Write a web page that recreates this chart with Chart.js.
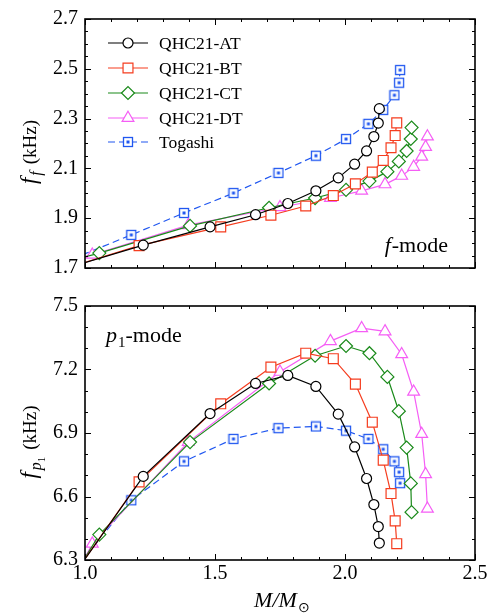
<!DOCTYPE html>
<html><head><meta charset="utf-8">
<script src="https://cdn.jsdelivr.net/npm/chart.js@4.4.1/dist/chart.umd.min.js"></script>
<style>
html,body{margin:0;padding:0;background:#fff;}
#wrap{position:relative;width:491px;height:614px;overflow:hidden;}
canvas{position:absolute;left:0;}
#c1{top:0;}
#c2{top:287px;}
</style></head><body>
<div id="wrap"><canvas id="c1" width="491" height="287"></canvas><canvas id="c2" width="491" height="327"></canvas></div>
<script>
// ---------- data ----------
const seriesNames = ["QHC21-AT", "QHC21-BT", "QHC21-CT", "QHC21-DT", "Togashi"];

const massAT = [0.95, 1.224, 1.481, 1.656, 1.780, 1.888, 1.974, 2.037, 2.083, 2.111, 2.128, 2.132];
const ffAT   = [1.706, 1.792, 1.865, 1.914, 1.959, 2.010, 2.062, 2.117, 2.170, 2.228, 2.282, 2.340];
const fpAT   = [6.218, 6.695, 6.992, 7.134, 7.172, 7.120, 6.989, 6.834, 6.685, 6.562, 6.458, 6.380];

const massBT = [0.95, 1.208, 1.522, 1.715, 1.849, 1.955, 2.040, 2.105, 2.147, 2.177, 2.193, 2.199];
const ffBT   = [1.706, 1.790, 1.865, 1.912, 1.949, 1.991, 2.038, 2.085, 2.132, 2.183, 2.232, 2.283];
const fpBT   = [6.218, 6.669, 7.038, 7.211, 7.277, 7.251, 7.131, 6.951, 6.772, 6.614, 6.485, 6.377];

const massCT = [0.95, 1.055, 1.404, 1.708, 1.885, 2.004, 2.094, 2.163, 2.207, 2.237, 2.253, 2.256];
const ffCT   = [1.730, 1.760, 1.869, 1.942, 1.981, 2.014, 2.049, 2.087, 2.128, 2.170, 2.218, 2.264];
const fpCT   = [6.210, 6.420, 6.857, 7.134, 7.265, 7.311, 7.277, 7.165, 7.003, 6.831, 6.662, 6.526];

const massDT = [0.95, 1.028, 1.397, 1.750, 1.944, 2.064, 2.154, 2.218, 2.264, 2.295, 2.310, 2.317];
const ffDT   = [1.733, 1.753, 1.872, 1.944, 1.981, 2.010, 2.036, 2.070, 2.106, 2.147, 2.186, 2.228];
const fpDT   = [6.190, 6.377, 6.857, 7.189, 7.334, 7.395, 7.380, 7.272, 7.095, 6.895, 6.705, 6.542];

const massTog = [0.95, 1.178, 1.381, 1.571, 1.744, 1.888, 2.004, 2.090, 2.147, 2.190, 2.208, 2.212];
const ffTog   = [1.736, 1.833, 1.921, 2.001, 2.082, 2.151, 2.218, 2.279, 2.335, 2.394, 2.444, 2.495];
const fpTog   = [6.240, 6.582, 6.766, 6.872, 6.923, 6.931, 6.911, 6.872, 6.823, 6.766, 6.715, 6.663];

const xTicks = [1.0, 1.5, 2.0, 2.5];
const yTicksTop = [1.7, 1.9, 2.1, 2.3, 2.5, 2.7];
const yTicksBottom = [6.3, 6.6, 6.9, 7.2, 7.5];

// ---------- styling ----------
const FONT = '"Liberation Serif", "Times New Roman", serif';
const C_BLACK = '#000000', C_RED = '#f53d1f', C_GREEN = '#1a8a1a', C_MAG = '#f55ef5', C_BLUE = '#2057f0';

const togMarker = (function(){
  const c = document.createElement('canvas'); c.width = 12; c.height = 12;
  const t = c.getContext('2d');
  t.fillStyle = '#fff'; t.fillRect(1, 1, 10, 10);
  t.strokeStyle = C_BLUE; t.lineWidth = 1.3; t.strokeRect(1.5, 1.5, 9, 9);
  t.fillStyle = C_BLUE; t.fillRect(4.5, 4.5, 3, 3);
  return c;
})();

const styles = [
  {color: C_BLACK, pointStyle: 'circle', radius: 5, dash: []},
  {color: C_RED, pointStyle: 'rect', radius: 7, dash: []},
  {color: C_GREEN, pointStyle: 'rectRot', radius: 6.5, dash: []},
  {color: C_MAG, pointStyle: 'triangle', radius: 6.8, dash: []},
  {color: C_BLUE, pointStyle: togMarker, radius: 6, dash: [7, 4]}
];

function pts(xs, ys){ return xs.map((x, i) => ({x: x, y: ys[i]})); }

function makeDatasets(list){
  return list.map((d, i) => ({
    label: seriesNames[i],
    data: pts(d[0], d[1]),
    borderColor: styles[i].color,
    borderWidth: 1.2,
    borderDash: styles[i].dash,
    pointStyle: styles[i].pointStyle,
    pointRadius: styles[i].radius,
    pointBorderColor: styles[i].color,
    pointBackgroundColor: '#fff',
    pointBorderWidth: 1.2,
    tension: 0,
    fill: false
  }));
}

// rich text helpers
function fontOf(r){ return (r.it ? 'italic ' : '') + r.size + 'px ' + FONT; }
function richWidth(ctx, runs){
  let w = 0;
  runs.forEach(r => { ctx.font = fontOf(r); w += ctx.measureText(r.t).width + (r.gap || 0); });
  return w;
}
function drawRich(ctx, runs, x, y, align){
  const w = richWidth(ctx, runs);
  let cx = align === 'center' ? x - w / 2 : (align === 'right' ? x - w : x);
  ctx.textAlign = 'left'; ctx.textBaseline = 'alphabetic'; ctx.fillStyle = '#000';
  runs.forEach(r => {
    ctx.font = fontOf(r);
    ctx.fillText(r.t, cx, y + (r.dy || 0));
    cx += ctx.measureText(r.t).width + (r.gap || 0);
  });
}

function drawFrame(chart, yMin, yMax, yMinor, yMajorEvery){
  const ctx = chart.ctx, a = chart.chartArea;
  const xs = chart.scales.x, ys = chart.scales.y;
  ctx.save();
  ctx.strokeStyle = '#000'; ctx.lineWidth = 1;
  const nx = Math.round((2.5 - 1.0) / 0.1);
  for (let i = 0; i <= nx; i++){
    const v = 1.0 + i * 0.1;
    const px = Math.round(xs.getPixelForValue(v)) + 0.5;
    const L = (i % 5 === 0) ? 6 : 3;
    ctx.beginPath();
    ctx.moveTo(px, a.bottom); ctx.lineTo(px, a.bottom - L);
    ctx.moveTo(px, a.top); ctx.lineTo(px, a.top + L);
    ctx.stroke();
  }
  const ny = Math.round((yMax - yMin) / yMinor);
  for (let i = 0; i <= ny; i++){
    const v = yMin + i * yMinor;
    const py = Math.round(ys.getPixelForValue(v)) + 0.5;
    const L = (i % yMajorEvery === 0) ? 6 : 3;
    ctx.beginPath();
    ctx.moveTo(a.left, py); ctx.lineTo(a.left + L, py);
    ctx.moveTo(a.right, py); ctx.lineTo(a.right - L, py);
    ctx.stroke();
  }
  ctx.lineWidth = 1.6;
  ctx.strokeRect(a.left, a.top, a.right - a.left, a.bottom - a.top);
  ctx.restore();
}

function drawMarker(ctx, st, x, y){
  ctx.save();
  ctx.fillStyle = '#fff'; ctx.strokeStyle = st.color; ctx.lineWidth = 1.2; ctx.setLineDash([]);
  if (Chart.helpers && Chart.helpers.drawPoint){
    Chart.helpers.drawPoint(ctx, {pointStyle: st.pointStyle, radius: st.radius, rotation: 0, borderWidth: 1.2}, x, y);
  } else {
    ctx.beginPath(); ctx.arc(x, y, st.radius, 0, Math.PI * 2); ctx.fill(); ctx.stroke();
  }
  ctx.restore();
}

const topPlugin = {
  id: 'topDeco',
  afterDraw(chart){
    const ctx = chart.ctx;
    drawFrame(chart, 1.7, 2.7, 0.05, 4);
    const rows = [43, 68, 93, 118, 142];
    rows.forEach((ry, i) => {
      const st = styles[i];
      ctx.save();
      ctx.strokeStyle = st.color; ctx.lineWidth = 1.2; ctx.setLineDash(st.dash);
      ctx.beginPath(); ctx.moveTo(108, ry); ctx.lineTo(148, ry); ctx.stroke();
      ctx.restore();
      drawMarker(ctx, st, 128, ry);
      ctx.save();
      ctx.font = '17.5px ' + FONT; ctx.fillStyle = '#000';
      ctx.textAlign = 'left'; ctx.textBaseline = 'alphabetic';
      ctx.fillText(seriesNames[i], 159, ry + 6);
      ctx.restore();
    });
    drawRich(ctx, [{t: 'f', it: true, size: 22, gap: 1}, {t: '-mode', size: 22}], 448, 252, 'right');
    ctx.save();
    ctx.translate(30, 152); ctx.rotate(-Math.PI / 2);
    drawRich(ctx, [{t: 'f', it: true, size: 23, gap: 2}, {t: 'f', it: true, size: 16, dy: 5, gap: 7}, {t: '(kHz)', size: 19}], 0, 6, 'center');
    ctx.restore();
  }
};

const botPlugin = {
  id: 'botDeco',
  afterDraw(chart){
    const ctx = chart.ctx;
    drawFrame(chart, 6.3, 7.5, 0.1, 3);
    drawRich(ctx, [{t: 'p', it: true, size: 22, gap: 1}, {t: '1', size: 15, dy: 5}, {t: '-mode', size: 22}], 106, 55, 'left');
    ctx.save();
    ctx.translate(30, 155); ctx.rotate(-Math.PI / 2);
    drawRich(ctx, [{t: 'f', it: true, size: 23, gap: 2}, {t: 'p', it: true, size: 16, dy: 5}, {t: '1', size: 11, dy: 9, gap: 7}, {t: '(kHz)', size: 19}], 0, 6, 'center');
    ctx.restore();
    drawRich(ctx, [{t: 'M', it: true, size: 22}, {t: '/', it: true, size: 22}, {t: 'M', it: true, size: 22, gap: 1}, {t: '\u2299', size: 14, dy: 5}], 282, 320, 'center');
  }
};

function yScale(min, max, ticksArr){
  return {
    type: 'linear', position: 'left', min: min, max: max,
    afterBuildTicks: s => { s.ticks = ticksArr.map(v => ({value: v})); },
    afterFit: s => { s.width = 85; },
    grid: {display: false, drawTicks: false},
    border: {display: false},
    ticks: {padding: 7, color: '#000', font: {family: FONT, size: 20}, callback: v => Number(v).toFixed(1)}
  };
}

Chart.defaults.animation = false;

new Chart(document.getElementById('c1'), {
  type: 'line',
  data: {datasets: makeDatasets([[massAT, ffAT], [massBT, ffBT], [massCT, ffCT], [massDT, ffDT], [massTog, ffTog]])},
  options: {
    responsive: false, animation: false, events: [],
    layout: {padding: {top: 14, right: 16, bottom: 13, left: 0}},
    plugins: {legend: {display: false}, tooltip: {enabled: false}},
    scales: {
      x: {type: 'linear', min: 1.0, max: 2.5, display: false},
      y: yScale(1.7, 2.7, yTicksTop)
    }
  },
  plugins: [topPlugin]
});

new Chart(document.getElementById('c2'), {
  type: 'line',
  data: {datasets: makeDatasets([[massAT, fpAT], [massBT, fpBT], [massCT, fpCT], [massDT, fpDT], [massTog, fpTog]])},
  options: {
    responsive: false, animation: false, events: [],
    layout: {padding: {top: 13, right: 16, bottom: 0, left: 0}},
    plugins: {legend: {display: false}, tooltip: {enabled: false}},
    scales: {
      x: {
        type: 'linear', min: 1.0, max: 2.5,
        afterBuildTicks: s => { s.ticks = xTicks.map(v => ({value: v})); },
        afterFit: s => { s.height = 54; },
        grid: {display: false, drawTicks: false},
        border: {display: false},
        ticks: {padding: 2, maxRotation: 0, color: '#000', font: {family: FONT, size: 20}, callback: v => Number(v).toFixed(1)}
      },
      y: yScale(6.3, 7.5, yTicksBottom)
    }
  },
  plugins: [botPlugin]
});
</script>
</body></html>
